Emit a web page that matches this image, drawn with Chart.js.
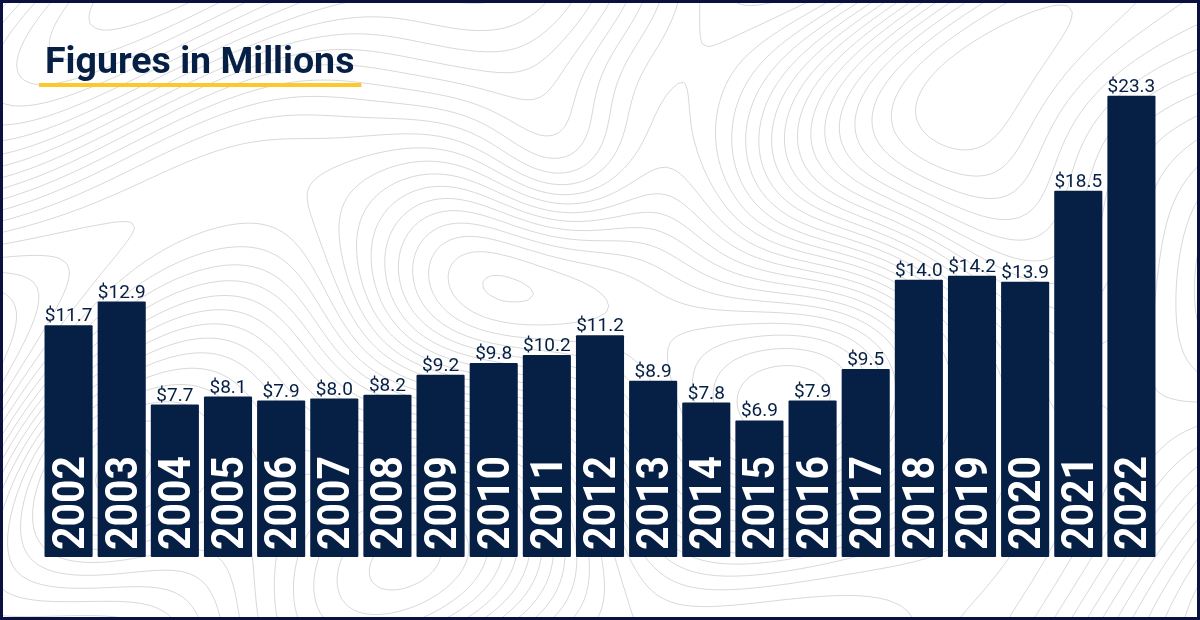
<!DOCTYPE html>
<html>
<head>
<meta charset="utf-8">
<script src="https://cdn.jsdelivr.net/npm/chart.js@4/dist/chart.umd.min.js"></script>
<style>
  html, body { margin: 0; padding: 0; background: #ffffff; }
  #wrap { width: 1200px; height: 620px; position: relative; }
  canvas { display: block; }
</style>
</head>
<body>
<div id="wrap"><canvas id="c" width="1200" height="620"></canvas></div>
<script>
// ---- Data ----
const years = ["2002","2003","2004","2005","2006","2007","2008","2009","2010","2011","2012","2013","2014","2015","2016","2017","2018","2019","2020","2021","2022"];
const values = [11.7, 12.9, 7.7, 8.1, 7.9, 8.0, 8.2, 9.2, 9.8, 10.2, 11.2, 8.9, 7.8, 6.9, 7.9, 9.5, 14.0, 14.2, 13.9, 18.5, 23.3];
const valueLabels = ["$11.7","$12.9","$7.7","$8.1","$7.9","$8.0","$8.2","$9.2","$9.8","$10.2","$11.2","$8.9","$7.8","$6.9","$7.9","$9.5","$14.0","$14.2","$13.9","$18.5","$23.3"];
const titleText = "Figures in Millions";

const NAVY = "#061f44";
const BORDER = "#0a1040";
const YELLOW = "#fcc82e";

// ---- Decorative topographic background (deterministic field) ----
function field(x, y) {
  return Math.sin(x / 150 + 0.8 * Math.sin(y / 120)) +
         Math.cos(y / 95 + 0.7 * Math.sin(x / 180)) +
         1.6 * Math.exp(-((x - 560) * (x - 560) + (y - 175) * (y - 175)) / 9000) +
         1.2 * Math.exp(-((x - 1000) * (x - 1000) + (y - 230) * (y - 230)) / 14000) +
         0.9 * Math.exp(-((x - 80) * (x - 80) + (y - 470) * (y - 470)) / 12000) +
         0.4 * Math.sin((x + y) / 70);
}
function drawContours(ctx, W, H) {
  const step = 6;
  const nx = Math.ceil(W / step) + 1, ny = Math.ceil(H / step) + 1;
  const g = new Float32Array(nx * ny);
  for (let j = 0; j < ny; j++) for (let i = 0; i < nx; i++) g[j * nx + i] = field(i * step, j * step);
  ctx.save();
  ctx.strokeStyle = "#d9d9d9";
  ctx.lineWidth = 1;
  ctx.beginPath();
  for (let lv = -4; lv <= 4; lv += 0.16) {
    for (let j = 0; j < ny - 1; j++) {
      for (let i = 0; i < nx - 1; i++) {
        const a = g[j * nx + i], b = g[j * nx + i + 1], c = g[(j + 1) * nx + i + 1], d = g[(j + 1) * nx + i];
        const x0 = i * step, y0 = j * step;
        const pts = [];
        if ((a < lv) !== (b < lv)) pts.push([x0 + step * (lv - a) / (b - a), y0]);
        if ((b < lv) !== (c < lv)) pts.push([x0 + step, y0 + step * (lv - b) / (c - b)]);
        if ((d < lv) !== (c < lv)) pts.push([x0 + step * (lv - d) / (c - d), y0 + step]);
        if ((a < lv) !== (d < lv)) pts.push([x0, y0 + step * (lv - a) / (d - a)]);
        if (pts.length >= 2) { ctx.moveTo(pts[0][0], pts[0][1]); ctx.lineTo(pts[1][0], pts[1][1]); }
        if (pts.length === 4) { ctx.moveTo(pts[2][0], pts[2][1]); ctx.lineTo(pts[3][0], pts[3][1]); }
      }
    }
  }
  ctx.stroke();
  ctx.restore();
}

const backgroundPlugin = {
  id: "bg",
  beforeDraw(chart) {
    const ctx = chart.ctx;
    ctx.save();
    ctx.fillStyle = "#ffffff";
    ctx.fillRect(0, 0, chart.width, chart.height);
    ctx.restore();
    drawContours(ctx, chart.width, chart.height);
    // Title
    ctx.save();
    ctx.fillStyle = NAVY;
    ctx.font = "bold 37.5px Roboto";
    ctx.textBaseline = "alphabetic";
    ctx.textAlign = "left";
    ctx.fillText(titleText, 45, 73);
    const w = ctx.measureText(titleText).width;
    ctx.fillStyle = YELLOW;
    ctx.fillRect(39, 83, w + 13, 4);
    ctx.restore();
  },
  afterDraw(chart) {
    const ctx = chart.ctx;
    ctx.save();
    ctx.strokeStyle = BORDER;
    ctx.lineWidth = 4;
    ctx.strokeRect(1, 1, chart.width - 2, chart.height - 2);
    ctx.restore();
  }
};

const labelPlugin = {
  id: "labels",
  afterDatasetsDraw(chart) {
    const ctx = chart.ctx;
    const meta = chart.getDatasetMeta(0);
    meta.data.forEach((bar, i) => {
      // value label above
      ctx.save();
      ctx.fillStyle = NAVY;
      ctx.font = "19px Roboto";
      ctx.textAlign = "center";
      ctx.textBaseline = "alphabetic";
      ctx.fillText(valueLabels[i], bar.x, bar.y - 4);
      ctx.restore();
      // rotated year label inside bar
      ctx.save();
      ctx.translate(bar.x + 15, bar.base - 7);
      ctx.rotate(-Math.PI / 2);
      ctx.scale(0.93, 1);
      ctx.fillStyle = "#ffffff";
      ctx.font = "bold 44px Roboto";
      ctx.textAlign = "left";
      ctx.textBaseline = "alphabetic";
      ctx.fillText(chart.data.labels[i], 0, 0);
      ctx.restore();
    });
  }
};

new Chart(document.getElementById("c"), {
  type: "bar",
  data: {
    labels: years,
    datasets: [{
      data: values,
      backgroundColor: NAVY,
      borderWidth: 0,
      borderRadius: 1,
      borderSkipped: false,
      categoryPercentage: 1.0,
      barPercentage: 0.905
    }]
  },
  options: {
    responsive: false,
    devicePixelRatio: 1,
    animation: false,
    layout: { padding: { left: 42, right: 42, top: 62, bottom: 63 } },
    plugins: { legend: { display: false }, tooltip: { enabled: false }, title: { display: false } },
    scales: {
      x: { display: false, offset: true },
      y: { display: false, min: 0, max: 25 }
    }
  },
  plugins: [backgroundPlugin, labelPlugin]
});
</script>
</body>
</html>
